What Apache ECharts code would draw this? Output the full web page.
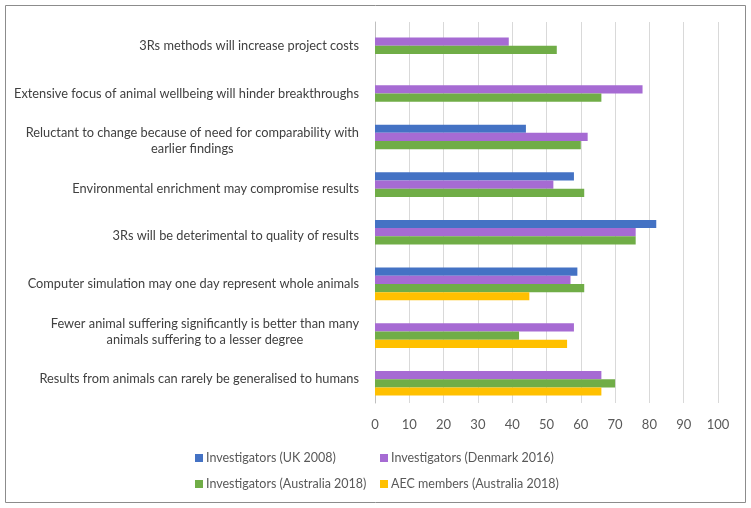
<!DOCTYPE html>
<html>
<head>
<meta charset="utf-8">
<script src="https://cdn.jsdelivr.net/npm/echarts@6/dist/echarts.min.js"></script>
<style>
html, body { margin: 0; padding: 0; background: #fff; }
#chart { width: 751px; height: 508px; }
</style>
</head>
<body>
<div id="chart"></div>
<script>
var categories = [
    '3Rs methods will increase project costs',
    'Extensive focus of animal wellbeing will hinder breakthroughs',
    'Reluctant to change because of need for comparability with\nearlier findings',
    'Environmental enrichment may compromise results',
    '3Rs will be deterimental to quality of results',
    'Computer simulation may one day represent whole animals',
    'Fewer animal suffering significantly is better than many\nanimals suffering to a lesser degree',
    'Results from animals can rarely be generalised to humans'
];
var seriesNames = [
    'Investigators (UK 2008)',
    'Investigators (Denmark 2016)',
    'Investigators (Australia 2018)',
    'AEC members (Australia 2018)'
];
var ukValues        = [null, null, 44, 58, 82, 59, null, null];
var denmarkValues   = [39, 78, 62, 52, 76, 57, 58, 66];
var australiaValues = [53, 66, 60, 61, 76, 61, 42, 70];
var aecValues       = [null, null, null, null, null, 45, 56, 66];
var xTicks = [0, 10, 20, 30, 40, 50, 60, 70, 80, 90, 100];

var colors = ['#4472c4', '#a66bd3', '#70ad47', '#ffc000'];
var font = 'Lato, "Open Sans", sans-serif';

var myChart = echarts.init(document.getElementById('chart'));

function bar(i, data) {
    return {
        name: seriesNames[i],
        type: 'bar',
        data: data,
        barGap: '0%',
        barCategoryGap: '31%',
        itemStyle: { color: colors[i] }
    };
}

function legendCol(x, names) {
    return {
        orient: 'vertical',
        left: x,
        top: 451,
        padding: 0,
        itemWidth: 8,
        itemHeight: 8,
        itemGap: 12,
        icon: 'rect',
        data: names,
        textStyle: { fontFamily: font, fontSize: 12.5, color: '#595959', padding: [0, 0, 0, -2], lineHeight: 14 }
    };
}

var option = {
    animation: false,
    backgroundColor: '#fff',
    graphic: [{
        type: 'rect',
        shape: { x: 5.5, y: 5.5, width: 740, height: 497 },
        style: { fill: 'none', stroke: '#8c8c8c', lineWidth: 1 },
        silent: true
    }],
    legend: [
        legendCol(195, [seriesNames[0], seriesNames[2]]),
        legendCol(380, [seriesNames[1], seriesNames[3]])
    ],
    grid: {
        left: 375,
        right: 33,
        top: 22,
        bottom: 105
    },
    xAxis: {
        type: 'value',
        min: xTicks[0],
        max: xTicks[xTicks.length - 1],
        interval: 10,
        axisLine: { show: false },
        axisTick: { show: false },
        splitLine: { lineStyle: { color: '#d9d9d9' } },
        axisLabel: {
            margin: 15,
            fontFamily: font,
            fontSize: 13,
            color: '#595959'
        }
    },
    yAxis: {
        type: 'category',
        inverse: true,
        data: categories,
        axisLine: { lineStyle: { color: '#bfbfbf' } },
        axisTick: { show: false },
        axisLabel: {
            margin: 16,
            fontFamily: font,
            fontSize: 12.8,
            color: '#404040',
            formatter: function (value) {
                return value.split('\n').map(function (line) {
                    return '{c|' + line + '}';
                }).join('\n');
            },
            rich: {
                c: {
                    align: 'center',
                    fontFamily: font,
                    fontSize: 12.8,
                    color: '#404040',
                    lineHeight: 16
                }
            }
        }
    },
    series: [
        bar(0, ukValues),
        bar(1, denmarkValues),
        bar(2, australiaValues),
        bar(3, aecValues)
    ]
};
myChart.setOption(option);
</script>
</body>
</html>
